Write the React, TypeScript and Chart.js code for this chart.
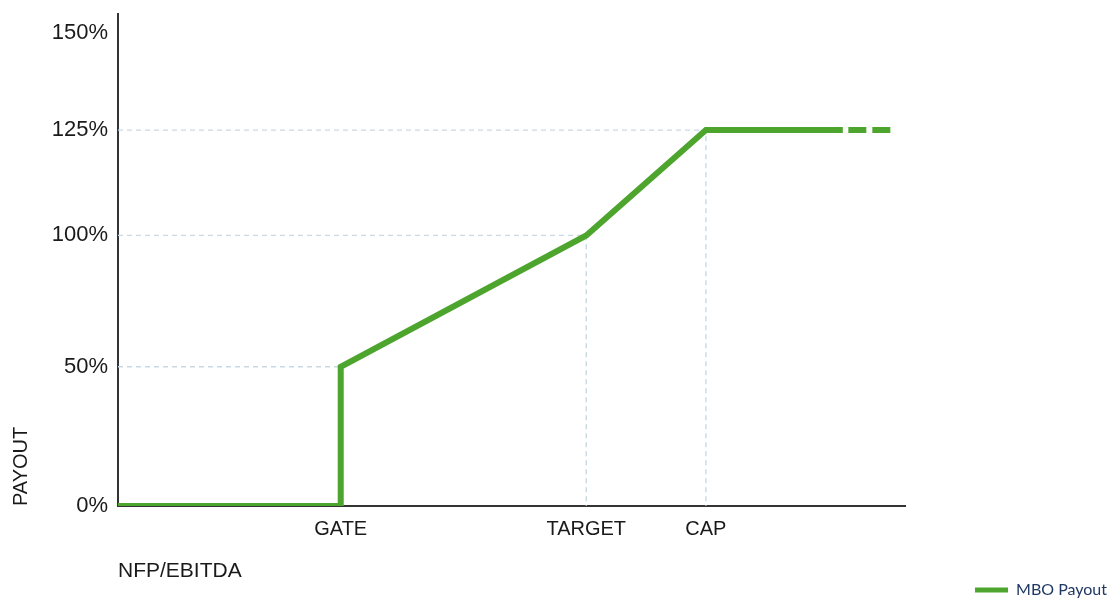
import React, { useEffect, useRef } from 'react';
import { Chart, registerables, LinearScale } from 'chart.js';

Chart.register(...registerables);

// ---- data ----
const MILESTONE_LABELS = ['GATE', 'TARGET', 'CAP'];
const MILESTONE_X = [28.3, 59.5, 74.7]; // position along NFP/EBITDA axis
const MILESTONE_PAYOUT = [50, 100, 125]; // payout %

const LINE_X = [0, 28.3, 28.3, 59.5, 74.7, 92.1];
const LINE_Y = [0, 0, 50, 100, 125, 125];
const TAIL_X = [92.8, 98.2];
const TAIL_Y = [125, 125];

const Y_TICKS = [0, 50, 100, 125, 150];
const SERIES_NAME = 'MBO Payout';

// ---- non-uniform payout axis (as drawn in the reference) ----
const Y_STOP_VALUES = [0, 50, 100, 125, 150, 160];
const Y_STOP_FRACTIONS = [0, 0.283, 0.55, 0.764, 0.961, 1];

function valueToFraction(v: number): number {
  const vs = Y_STOP_VALUES, fs = Y_STOP_FRACTIONS;
  if (v <= vs[0]) return fs[0] + (v - vs[0]) * (fs[1] - fs[0]) / (vs[1] - vs[0]);
  for (let i = 1; i < vs.length; i++) {
    if (v <= vs[i]) {
      return fs[i - 1] + (v - vs[i - 1]) * (fs[i] - fs[i - 1]) / (vs[i] - vs[i - 1]);
    }
  }
  const n = vs.length - 1;
  return fs[n] + (v - vs[n]) * (fs[n] - fs[n - 1]) / (vs[n] - vs[n - 1]);
}
function fractionToValue(f: number): number {
  const vs = Y_STOP_VALUES, fs = Y_STOP_FRACTIONS;
  for (let i = 1; i < fs.length; i++) {
    if (f <= fs[i] || i === fs.length - 1) {
      return vs[i - 1] + (f - fs[i - 1]) * (vs[i] - vs[i - 1]) / (fs[i] - fs[i - 1]);
    }
  }
  return vs[vs.length - 1];
}

class PiecewiseScale extends LinearScale {
  static id = 'piecewise';
  static defaults = LinearScale.defaults;
  getPixelForValue(value: any) {
    if (value === null || value === undefined || isNaN(value)) return NaN;
    return this.getPixelForDecimal(valueToFraction(+value));
  }
  getValueForPixel(pixel: number) {
    return fractionToValue(this.getDecimalForPixel(pixel));
  }
}
Chart.register(PiecewiseScale as any);

const GREEN = '#4da52e';
const GUIDE = '#c9d9e5';
const AXIS = '#333333';
const TEXT = '#1a1a1a';
const SANS = 'Liberation Sans, Arial, Helvetica, sans-serif';

export default function App() {
  const ref = useRef<HTMLCanvasElement>(null);

  useEffect(() => {
    if (!ref.current) return;
    const guides = MILESTONE_X.map((mx, i) => ({
      label: 'guide-' + MILESTONE_LABELS[i],
      data: [
        { x: 0, y: MILESTONE_PAYOUT[i] },
        { x: mx, y: MILESTONE_PAYOUT[i] },
        { x: mx, y: 0 },
      ],
      borderColor: GUIDE,
      borderWidth: 1.4,
      borderDash: [5, 4],
      pointRadius: 0,
      fill: false,
      tension: 0,
    }));

    const chart = new Chart(ref.current, {
      type: 'line',
      data: {
        datasets: [
          {
            label: SERIES_NAME,
            data: LINE_X.map((x, i) => ({ x, y: LINE_Y[i] })),
            borderColor: GREEN,
            backgroundColor: GREEN,
            borderWidth: 6,
            borderJoinStyle: 'miter',
            borderCapStyle: 'butt',
            pointRadius: 0,
            fill: false,
            tension: 0,
          },
          {
            label: SERIES_NAME + ' (tail)',
            data: TAIL_X.map((x, i) => ({ x, y: TAIL_Y[i] })),
            borderColor: GREEN,
            borderWidth: 6,
            borderDash: [18, 6],
            borderCapStyle: 'butt',
            pointRadius: 0,
            fill: false,
            tension: 0,
          },
          ...guides,
        ] as any,
      },
      options: {
        responsive: false,
        animation: false,
        layout: { padding: { top: 14, left: 0, right: 2, bottom: -10 } },
        scales: {
          x: {
            type: 'linear',
            min: 0,
            max: 100,
            afterBuildTicks: (scale: any) => {
              scale.ticks = MILESTONE_X.map((v) => ({ value: v }));
            },
            afterFit: (scale: any) => {
              scale.height = 76;
            },
            grid: { display: false, drawTicks: false, tickLength: 0 },
            border: { display: true, color: AXIS, width: 2 },
            ticks: {
              autoSkip: false,
              maxRotation: 0,
              padding: 11,
              color: TEXT,
              font: { family: SANS, size: 20 },
              callback: (_v: any, i: number) => MILESTONE_LABELS[i],
            },
            title: {
              display: true,
              text: 'NFP/EBITDA',
              align: 'start',
              color: TEXT,
              font: { family: SANS, size: 21 },
              padding: { top: 0, bottom: -2 },
            },
          },
          y: {
            type: 'piecewise' as any,
            min: 0,
            max: 160,
            afterBuildTicks: (scale: any) => {
              scale.ticks = Y_TICKS.map((v) => ({ value: v }));
            },
            afterFit: (scale: any) => {
              scale.width = 118;
              scale.paddingTop = 0;
              scale.paddingBottom = 0;
            },
            grid: { display: false, drawTicks: false, tickLength: 0 },
            border: { display: true, color: AXIS, width: 2 },
            ticks: {
              padding: 10,
              color: TEXT,
              font: { family: SANS, size: 22 },
              callback: (v: any) => v + '%',
            },
            title: {
              display: true,
              text: 'PAYOUT',
              align: 'start',
              color: TEXT,
              font: { family: SANS, size: 20 },
              padding: { top: 9, bottom: 10 },
            },
          } as any,
          yRight: {
            type: 'linear',
            position: 'right',
            display: true,
            afterFit: (scale: any) => {
              scale.width = 202;
              scale.paddingTop = 0;
              scale.paddingBottom = 0;
            },
            grid: { display: false, drawTicks: false },
            border: { display: false },
            ticks: { display: false },
          },
        },
        plugins: {
          tooltip: { enabled: false },
          legend: {
            display: true,
            position: 'bottom',
            align: 'end',
            labels: {
              boxWidth: 33,
              boxHeight: 5,
              padding: 0,
              color: '#1f3864',
              font: { family: 'Lato, Carlito, sans-serif', size: 16 },
              generateLabels: () => [
                {
                  text: SERIES_NAME,
                  fillStyle: GREEN,
                  strokeStyle: GREEN,
                  lineWidth: 0,
                  hidden: false,
                  datasetIndex: 0,
                  fontColor: '#1f3864',
                } as any,
              ],
            },
          },
        },
      } as any,
    });
    return () => chart.destroy();
  }, []);

  return (
    <canvas
      ref={ref}
      width={1109}
      height={598}
      style={{ position: 'fixed', left: 0, top: 0, width: 1109, height: 598 }}
    />
  );
}
